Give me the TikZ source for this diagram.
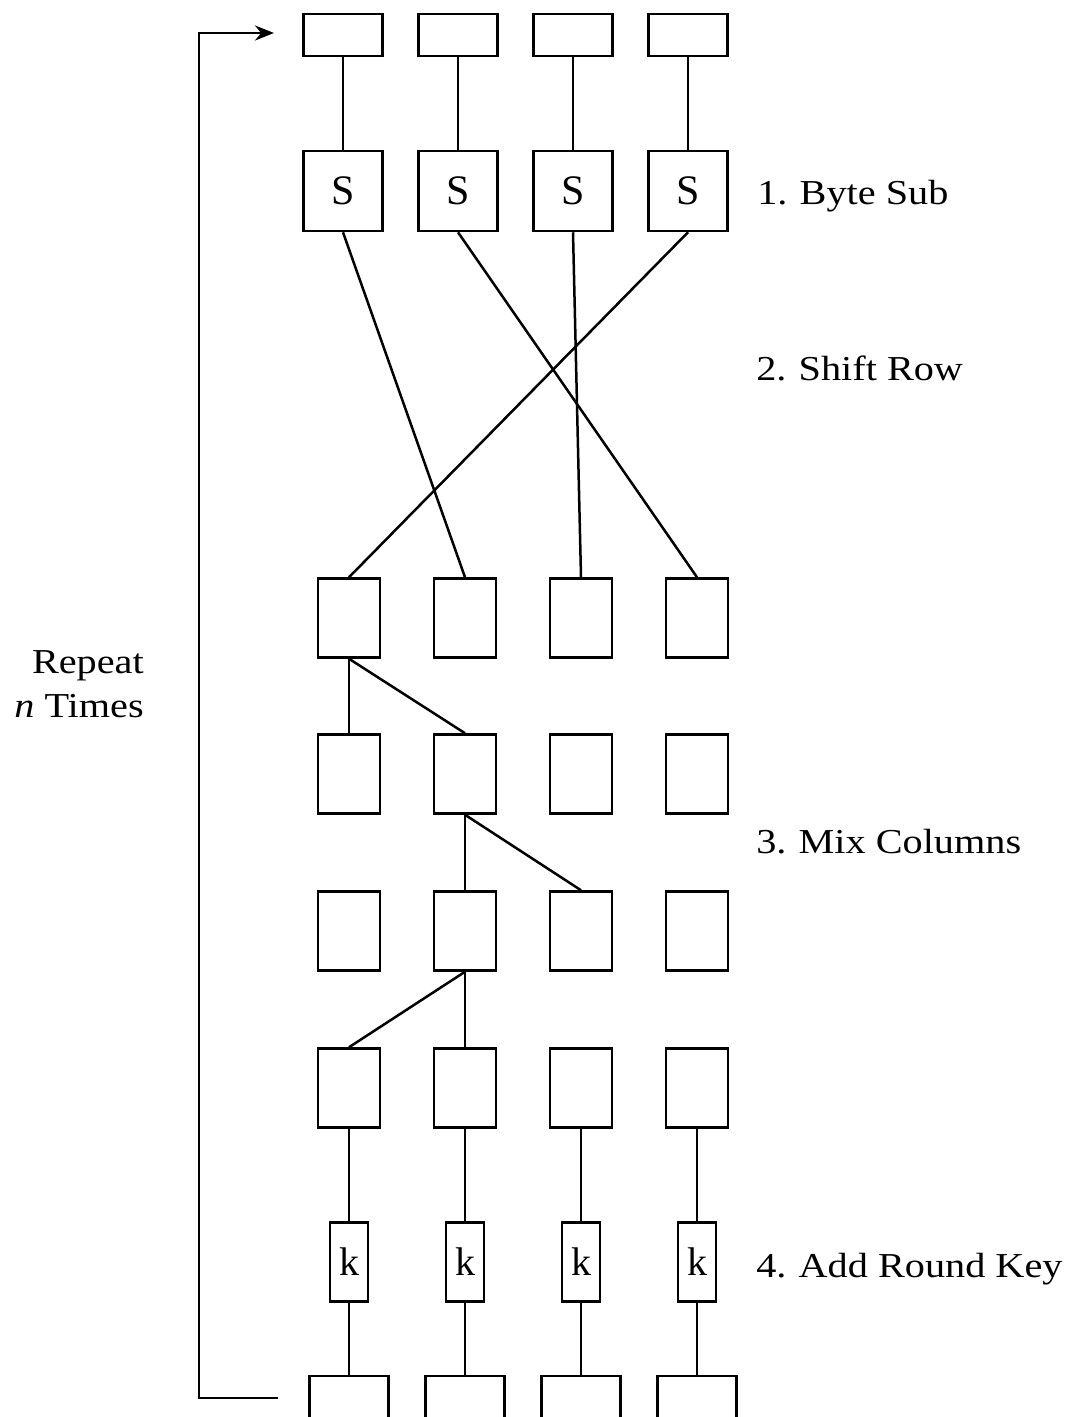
\documentclass[tikz,border=0pt]{standalone}
\usepackage{fontspec}
\setmainfont{Liberation Serif}
\newfontfamily\lblfont[FakeStretch=1.15]{Liberation Serif}
\usetikzlibrary{arrows.meta}

\tikzset{
  cell/.style={draw,inner sep=0pt,minimum width=62pt,minimum height=79pt},
  wide/.style={cell,minimum width=79pt,minimum height=42pt},
  sbox/.style={cell,minimum width=79pt,minimum height=80pt,font=\fontsize{42}{48}\selectfont},
  kbox/.style={cell,minimum width=38pt,minimum height=79pt,font=\fontsize{40}{48}\selectfont},
  stage/.style={anchor=base west,inner sep=0pt,font=\lblfont\fontsize{35}{44}\selectfont}
}

\begin{document}
\begin{tikzpicture}[x=1pt,y=-1pt,line width=2.5pt]
\useasboundingbox (0,0) rectangle (1078,1417);

% input
\node[wide] (t1) at (343,35) {};
\node[wide] (t2) at (458,35) {};
\node[wide] (t3) at (573,35) {};
\node[wide] (t4) at (688,35) {};

% byte sub
\node[sbox] (s1) at (343,191) {S};
\node[sbox] (s2) at (458,191) {S};
\node[sbox] (s3) at (573,191) {S};
\node[sbox] (s4) at (688,191) {S};

% mix columns
\node[cell] (m11) at (349,618) {};
\node[cell] (m12) at (465,618) {};
\node[cell] (m13) at (581,618) {};
\node[cell] (m14) at (697,618) {};
\node[cell] (m21) at (349,774) {};
\node[cell] (m22) at (465,774) {};
\node[cell] (m23) at (581,774) {};
\node[cell] (m24) at (697,774) {};
\node[cell] (m31) at (349,931) {};
\node[cell] (m32) at (465,931) {};
\node[cell] (m33) at (581,931) {};
\node[cell] (m34) at (697,931) {};
\node[cell] (m41) at (349,1088) {};
\node[cell] (m42) at (465,1088) {};
\node[cell] (m43) at (581,1088) {};
\node[cell] (m44) at (697,1088) {};

% round key
\node[kbox] (k1) at (349,1262) {k};
\node[kbox] (k2) at (465,1262) {k};
\node[kbox] (k3) at (581,1262) {k};
\node[kbox] (k4) at (697,1262) {k};

% output
\node[wide] (b1) at (349,1397) {};
\node[wide] (b2) at (465,1397) {};
\node[wide] (b3) at (581,1397) {};
\node[wide] (b4) at (697,1397) {};

\draw (t1.south) -- (s1.north);
\draw (t2.south) -- (s2.north);
\draw (t3.south) -- (s3.north);
\draw (t4.south) -- (s4.north);

% shift row
\draw (s1.south) -- (m12.north);
\draw (s2.south) -- (m14.north);
\draw (s3.south) -- (m13.north);
\draw (s4.south) -- (m11.north);

\draw (m11.south) -- (m21.north);
\draw (m11.south) -- (m22.north);
\draw (m22.south) -- (m32.north);
\draw (m22.south) -- (m33.north);
\draw (m32.south) -- (m41.north);
\draw (m32.south) -- (m42.north);

\draw (m41.south) -- (k1.north);
\draw (m42.south) -- (k2.north);
\draw (m43.south) -- (k3.north);
\draw (m44.south) -- (k4.north);
\draw (k1.south) -- (b1.north);
\draw (k2.south) -- (b2.north);
\draw (k3.south) -- (b3.north);
\draw (k4.south) -- (b4.north);

% repeat loop
\coordinate (back) at (278,1398);
\coordinate (again) at (274,33);
\draw[-{Stealth[length=19pt,width=15pt]}] (back) -- ++(-79,0) |- (again);

\node[anchor=east,align=right,inner sep=0pt,font=\lblfont\fontsize{35}{44}\selectfont] (rep) at (145,684) {Repeat\\\textit{n} Times};

\node[stage] (l1) at (756,204) {1.\hspace{0.35em}Byte Sub};
\node[stage] (l2) at (755,380) {2.\hspace{0.35em}Shift Row};
\node[stage] (l3) at (755,853) {3.\hspace{0.35em}Mix Columns};
\node[stage] (l4) at (755,1277) {4.\hspace{0.35em}Add Round Key};
\end{tikzpicture}
\end{document}
